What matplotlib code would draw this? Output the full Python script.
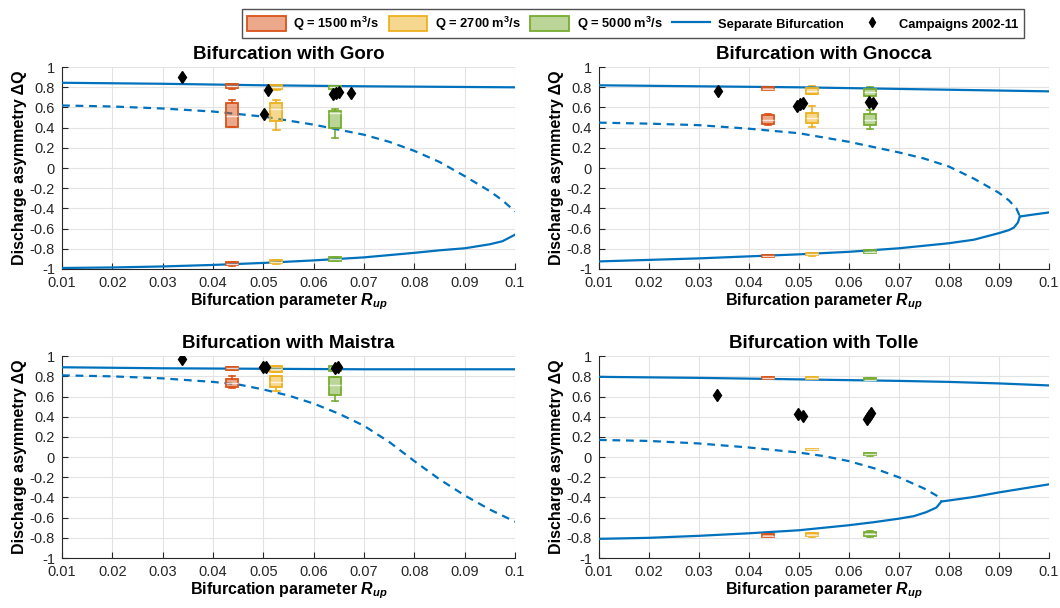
import numpy as np
import matplotlib
matplotlib.use('Agg')
import matplotlib.pyplot as plt
from matplotlib.patches import Patch
from matplotlib.lines import Line2D

plt.rcParams['font.family'] = ['Liberation Sans', 'DejaVu Sans']
plt.rcParams['mathtext.fontset'] = 'custom'
plt.rcParams['mathtext.rm'] = 'Liberation Sans:bold'
plt.rcParams['mathtext.it'] = 'Liberation Sans:bold:italic'

# box positions (R_up) for the three discharges
box_x = [0.0438, 0.0526, 0.0642]
q_labels = ['Q = 1500 m$^3$/s', 'Q = 2700 m$^3$/s', 'Q = 5000 m$^3$/s']

# ---- Goro ----
goro_up_x = [0.01, 0.03, 0.05, 0.07, 0.1]
goro_up = [0.845, 0.835, 0.82, 0.81, 0.80]
goro_dash_x = [0.01, 0.02, 0.03, 0.04, 0.05, 0.06, 0.07, 0.075, 0.08, 0.085, 0.09, 0.095, 0.0975, 0.1]
goro_dash = [0.62, 0.61, 0.59, 0.56, 0.51, 0.43, 0.33, 0.26, 0.17, 0.06, -0.08, -0.23, -0.32, -0.43]
goro_low_x = [0.01, 0.02, 0.03, 0.04, 0.05, 0.06, 0.07, 0.08, 0.085, 0.09, 0.095, 0.0975, 0.1]
goro_low = [-0.99, -0.985, -0.975, -0.96, -0.94, -0.915, -0.885, -0.84, -0.815, -0.795, -0.755, -0.725, -0.66]
# boxes: (whislo, q1, med, q3, whishi)
goro_red = [(0.78, 0.79, 0.81, 0.83, 0.83), (0.41, 0.41, 0.52, 0.64, 0.67), (-0.97, -0.965, -0.95, -0.93, -0.93)]
goro_yel = [(0.77, 0.78, 0.80, 0.82, 0.82), (0.38, 0.47, 0.59, 0.64, 0.67), (-0.95, -0.945, -0.93, -0.91, -0.91)]
goro_grn = [(0.77, 0.78, 0.80, 0.815, 0.815), (0.30, 0.40, 0.55, 0.57, 0.59), (-0.925, -0.92, -0.905, -0.885, -0.885)]
goro_cx = [0.0339, 0.0501, 0.0509, 0.0639, 0.0645, 0.065, 0.0674]
goro_cy = [0.90, 0.535, 0.77, 0.73, 0.74, 0.75, 0.745]

# ---- Gnocca ----
gnocca_up_x = [0.01, 0.03, 0.05, 0.075, 0.1]
gnocca_up = [0.82, 0.81, 0.80, 0.78, 0.76]
gnocca_dash_x = [0.01, 0.02, 0.03, 0.04, 0.05, 0.06, 0.07, 0.075, 0.08, 0.085, 0.09, 0.092, 0.0935, 0.0942]
gnocca_dash = [0.45, 0.44, 0.425, 0.39, 0.345, 0.26, 0.155, 0.095, 0.015, -0.105, -0.245, -0.32, -0.40, -0.48]
gnocca_low_x = [0.01, 0.02, 0.03, 0.04, 0.05, 0.06, 0.07, 0.075, 0.08, 0.085, 0.09, 0.092, 0.093, 0.0938, 0.0942]
gnocca_low = [-0.925, -0.91, -0.895, -0.875, -0.855, -0.83, -0.795, -0.77, -0.745, -0.71, -0.645, -0.615, -0.59, -0.54, -0.48]
gnocca_right_x = [0.0942, 0.097, 0.1]
gnocca_right = [-0.48, -0.46, -0.44]
gnocca_red = [(0.77, 0.775, 0.785, 0.80, 0.80), (0.43, 0.44, 0.48, 0.525, 0.535), (-0.885, -0.88, -0.87, -0.86, -0.86)]
gnocca_yel = [(0.73, 0.73, 0.76, 0.79, 0.81), (0.41, 0.45, 0.50, 0.55, 0.61), (-0.87, -0.865, -0.855, -0.84, -0.84)]
gnocca_grn = [(0.71, 0.71, 0.755, 0.78, 0.80), (0.385, 0.425, 0.48, 0.54, 0.58), (-0.845, -0.84, -0.83, -0.81, -0.81)]
gnocca_cx = [0.0338, 0.0497, 0.0503, 0.0508, 0.0641, 0.0648]
gnocca_cy = [0.765, 0.617, 0.635, 0.646, 0.657, 0.647]

# ---- Maistra ----
maistra_up_x = [0.01, 0.03, 0.05, 0.07, 0.1]
maistra_up = [0.89, 0.88, 0.875, 0.87, 0.87]
maistra_dash_x = [0.01, 0.02, 0.03, 0.04, 0.045, 0.05, 0.055, 0.06, 0.065, 0.07, 0.075, 0.08, 0.085, 0.09, 0.095, 0.1]
maistra_dash = [0.81, 0.80, 0.78, 0.745, 0.72, 0.67, 0.61, 0.53, 0.43, 0.31, 0.15, -0.04, -0.22, -0.38, -0.52, -0.64]
maistra_red = [(0.865, 0.865, 0.88, 0.89, 0.89), (0.68, 0.69, 0.73, 0.77, 0.80)]
maistra_yel = [(0.845, 0.845, 0.87, 0.90, 0.90), (0.65, 0.69, 0.74, 0.80, 0.80)]
maistra_grn = [(0.85, 0.85, 0.88, 0.90, 0.90), (0.557, 0.62, 0.71, 0.79, 0.79)]
maistra_cx = [0.0339, 0.0499, 0.0506, 0.0642, 0.0649]
maistra_cy = [0.975, 0.895, 0.89, 0.885, 0.89]

# ---- Tolle ----
tolle_up_x = [0.01, 0.03, 0.05, 0.07, 0.08, 0.09, 0.1]
tolle_up = [0.795, 0.785, 0.77, 0.755, 0.745, 0.73, 0.71]
tolle_dash_x = [0.01, 0.02, 0.03, 0.04, 0.05, 0.055, 0.06, 0.065, 0.07, 0.075, 0.0775, 0.0785]
tolle_dash = [0.17, 0.16, 0.135, 0.095, 0.045, 0.01, -0.04, -0.11, -0.2, -0.31, -0.38, -0.44]
tolle_low_x = [0.01, 0.02, 0.03, 0.04, 0.05, 0.06, 0.065, 0.07, 0.073, 0.0755, 0.0775, 0.0785]
tolle_low = [-0.81, -0.80, -0.78, -0.755, -0.725, -0.675, -0.645, -0.61, -0.585, -0.545, -0.50, -0.44]
tolle_right_x = [0.0785, 0.08, 0.085, 0.09, 0.095, 0.1]
tolle_right = [-0.44, -0.43, -0.395, -0.35, -0.31, -0.27]
tolle_red = [(0.775, 0.775, 0.785, 0.795, 0.795), (-0.795, -0.79, -0.78, -0.765, -0.765)]
tolle_yel = [(0.775, 0.775, 0.782, 0.79, 0.79), (0.07, 0.07, 0.078, 0.085, 0.085), (-0.79, -0.785, -0.77, -0.755, -0.75)]
tolle_grn = [(0.76, 0.76, 0.768, 0.78, 0.78), (0.015, 0.02, 0.03, 0.04, 0.045), (-0.79, -0.785, -0.76, -0.74, -0.735)]
tolle_cx = [0.0336, 0.0498, 0.0508, 0.0636, 0.064, 0.0644]
tolle_cy = [0.62, 0.425, 0.41, 0.375, 0.41, 0.44]

line_c = '#0072BD'
box_cols = ['#D95319', '#EDB120', '#77AC30']

fig = plt.figure(figsize=(10.6, 6.08), dpi=100)
ax_pos = [[0.0585, 0.5576, 0.4274, 0.332], [0.565, 0.5576, 0.4245, 0.332],
          [0.0585, 0.0822, 0.4274, 0.332], [0.565, 0.0822, 0.4245, 0.332]]

panels = [
    ('Bifurcation with Goro', [(goro_up_x, goro_up, '-'), (goro_dash_x, goro_dash, '--'), (goro_low_x, goro_low, '-')],
     [goro_red, goro_yel, goro_grn], goro_cx, goro_cy),
    ('Bifurcation with Gnocca', [(gnocca_up_x, gnocca_up, '-'), (gnocca_dash_x, gnocca_dash, '--'),
                                 (gnocca_low_x, gnocca_low, '-'), (gnocca_right_x, gnocca_right, '-')],
     [gnocca_red, gnocca_yel, gnocca_grn], gnocca_cx, gnocca_cy),
    ('Bifurcation with Maistra', [(maistra_up_x, maistra_up, '-'), (maistra_dash_x, maistra_dash, '--')],
     [maistra_red, maistra_yel, maistra_grn], maistra_cx, maistra_cy),
    ('Bifurcation with Tolle', [(tolle_up_x, tolle_up, '-'), (tolle_dash_x, tolle_dash, '--'),
                                (tolle_low_x, tolle_low, '-'), (tolle_right_x, tolle_right, '-')],
     [tolle_red, tolle_yel, tolle_grn], tolle_cx, tolle_cy),
]

yticks = [-1, -0.8, -0.6, -0.4, -0.2, 0, 0.2, 0.4, 0.6, 0.8, 1]
ytick_labels = ['-1', '-0.8', '-0.6', '-0.4', '-0.2', '0', '0.2', '0.4', '0.6', '0.8', '1']
xticks = [0.01, 0.02, 0.03, 0.04, 0.05, 0.06, 0.07, 0.08, 0.09, 0.1]
xtick_labels = ['0.01', '0.02', '0.03', '0.04', '0.05', '0.06', '0.07', '0.08', '0.09', '0.1']

for pos, (title, curves, boxes, cx, cy) in zip(ax_pos, panels):
    ax = fig.add_axes(pos)
    for xs, ys, ls in curves:
        if ls == '--':
            ax.plot(xs, ys, color=line_c, lw=1.6, ls=(0, (3.5, 2.6)), zorder=3)
        else:
            ax.plot(xs, ys, color=line_c, lw=1.6, zorder=3)
    for i, col in enumerate(boxes):
        stats = [dict(whislo=b[0], q1=b[1], med=b[2], q3=b[3], whishi=b[4]) for b in col]
        bp = ax.bxp(stats, positions=[box_x[i]] * len(stats), widths=0.0024, capwidths=0.0013,
                    showfliers=False, patch_artist=True, manage_ticks=False,
                    boxprops=dict(lw=1.3),
                    whiskerprops=dict(color=box_cols[i], lw=1.2),
                    capprops=dict(color=box_cols[i], lw=1.2),
                    medianprops=dict(color='white', lw=1.0, alpha=0.75))
        for p in bp['boxes']:
            p.set_alpha(None)
            p.set_facecolor(matplotlib.colors.to_rgba(box_cols[i], 0.5))
            p.set_edgecolor(box_cols[i])
            p.set_zorder(4)
        for m in bp['medians']:
            m.set_zorder(4.5)
    ax.plot(cx, cy, 'd', color='black', ms=6, zorder=5)
    ax.set_xlim(0.01, 0.1)
    ax.set_ylim(-1, 1)
    ax.set_xticks(xticks)
    ax.set_xticklabels(xtick_labels)
    ax.set_yticks(yticks)
    ax.set_yticklabels(ytick_labels)
    ax.grid(True, color='#e3e3e3', lw=0.8)
    ax.set_axisbelow(True)
    ax.spines['top'].set_visible(False)
    ax.spines['right'].set_visible(False)
    for s in ['left', 'bottom']:
        ax.spines[s].set_color('#262626')
        ax.spines[s].set_linewidth(0.8)
    ax.tick_params(direction='in', length=4, colors='#262626', labelsize=10.5, width=0.8, pad=5)
    ax.set_title(title, fontsize=13.5, fontweight='bold', pad=6)
    ax.set_xlabel(r'Bifurcation parameter $\it{R}_{\it{up}}$', fontsize=11.5, fontweight='bold', labelpad=1)
    ax.set_ylabel('Discharge asymmetry \u0394Q', fontsize=11.5, fontweight='bold', labelpad=2)

handles = [Patch(facecolor=matplotlib.colors.to_rgba(c, 0.5), edgecolor=c, lw=1.3) for c in box_cols]
handles.append(Line2D([], [], color=line_c, lw=1.6))
handles.append(Line2D([], [], marker='d', color='black', ls='none', ms=5))
labels = q_labels + ['Separate Bifurcation', 'Campaigns 2002-11']
fig.legend(handles, labels, loc='upper center', bbox_to_anchor=(0.597, 0.995), ncol=5,
           prop={'weight': 'bold', 'size': 9.3}, frameon=True, fancybox=False,
           edgecolor='#262626', handlelength=3.0, handleheight=1.4, columnspacing=0.7,
           handletextpad=0.6, borderpad=0.4)

plt.savefig('out.png', dpi=100)
